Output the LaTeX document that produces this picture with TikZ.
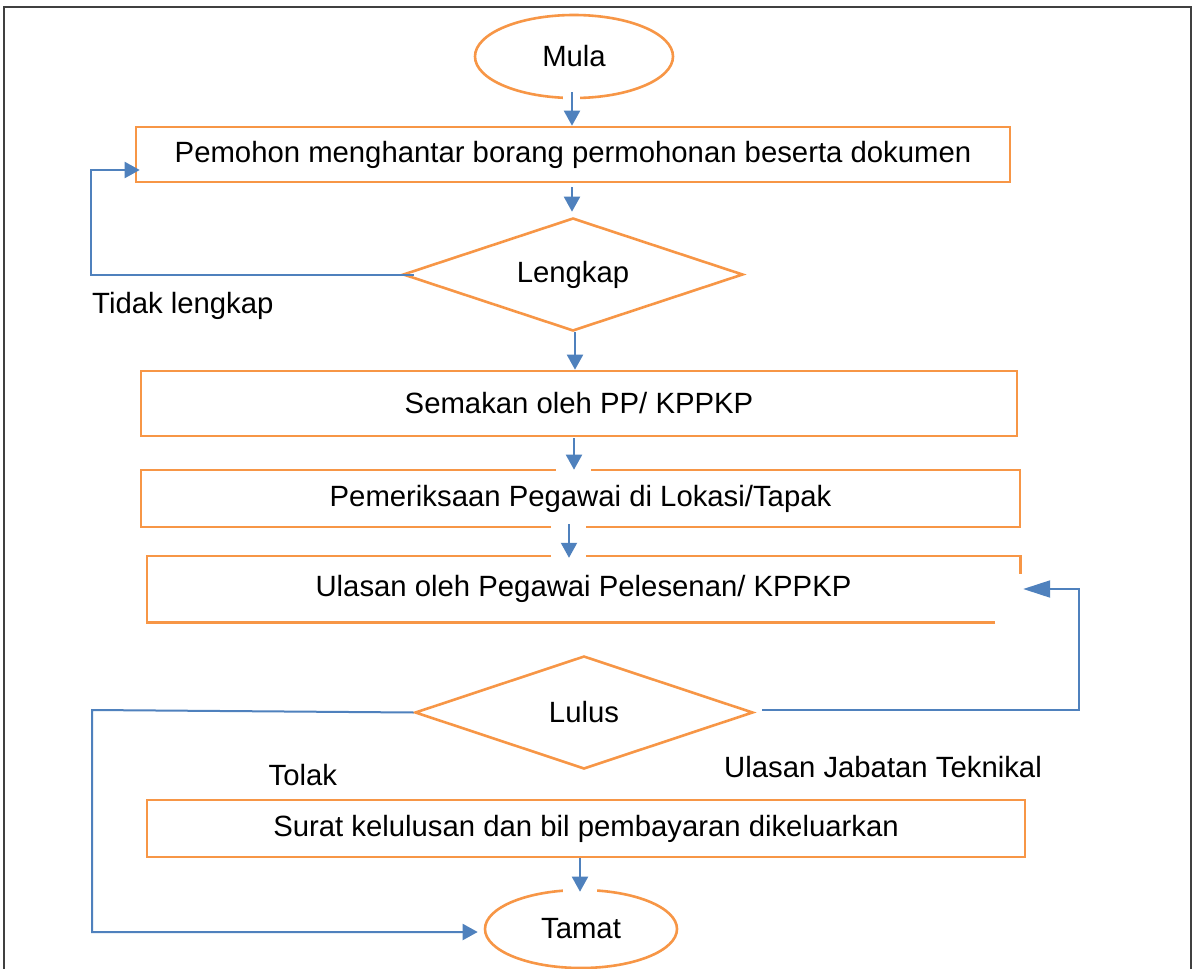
\documentclass[tikz,border=0pt]{standalone}
\usepackage{fontspec}
\setmainfont{Liberation Sans}
\usetikzlibrary{shapes.geometric,arrows.meta}
\definecolor{orng}{HTML}{F79646}
\definecolor{blu}{HTML}{4F81BD}
\definecolor{frm}{HTML}{404040}
\tikzset{
  box/.style={draw=orng, line width=2.6pt, rectangle, inner sep=0pt},
  openbox/.style={rectangle, inner sep=0pt},
  dec/.style={draw=orng, line width=2.6pt, diamond, aspect=3, inner sep=0pt},
  term/.style={draw=orng, line width=2.6pt, ellipse, inner sep=0pt},
  lbl/.style={inner sep=0pt},
  conn/.style={draw=blu, line width=2pt},
  arr/.style={conn, -{Triangle[length=15pt,width=16pt]}},
  bigarr/.style={conn, -{Triangle[length=27pt,width=17pt]}},
  patch/.style={fill=white, draw=none},
}
\begin{document}
\begin{tikzpicture}[x=1pt, y=-1pt, font=\fontsize{29.3pt}{35pt}\selectfont]
\useasboundingbox (0,0) rectangle (1195,969);
\fill[white] (0,0) rectangle (1195,969);
% frame
\draw[frm, line width=1.8pt] (4,975) -- (4,7) -- (1191,7) -- (1191,975);

% nodes
\node[term, minimum width=198pt, minimum height=83pt] (mula) at (574,56.5) {Mula};
\node[box, minimum width=874pt, minimum height=55pt] (b1) at (573,154.5) {Pemohon menghantar borang permohonan beserta dokumen};
\node[dec, minimum width=340pt, minimum height=113pt] (lengkap) at (573,274.5) {Lengkap};
\node[box, minimum width=876pt, minimum height=65pt] (b2) at (579,403.5) {Semakan oleh PP/ KPPKP};
\node[box, minimum width=879pt, minimum height=57pt] (b3) at (580.5,498.5) {Pemeriksaan Pegawai di Lokasi/Tapak};
\node[openbox, minimum width=873pt, minimum height=66pt] (b4) at (583.5,589) {Ulasan oleh Pegawai Pelesenan/ KPPKP};
\draw[orng, line width=2.6pt] ([xshift=-25pt]b4.south east) -- (b4.south west) -- (b4.north west) -- (b4.north east) -- ([yshift=-18pt]b4.north east);
\node[dec, minimum width=338pt, minimum height=113pt] (lulus) at (584,712.5) {Lulus};
\node[box, minimum width=878pt, minimum height=57pt] (b5) at (586,828.5) {Surat kelulusan dan bil pembayaran dikeluarkan};
\node[term, minimum width=192pt, minimum height=78pt] (tamat) at (581,929) {Tamat};

% labels
\node[lbl, anchor=base west] (tl) at (92,313) {Tidak lengkap};
\node[lbl, anchor=base west] (tolak) at (268.5,785) {Tolak};
\node[lbl, anchor=base west] (ujt) at (724,777.5) {Ulasan Jabatan Teknikal};

% white gaps where the arrows cut the borders
\path[patch] (563,94) rectangle (580,102);
\path[patch] (556,466) rectangle (591,475);
\path[patch] (551,521) rectangle (586,561);
\path[patch] (563,885) rectangle (597,896);

% connectors
\coordinate (lc1) at (91,274.5);
\coordinate (rc) at (1079,709.5);
\coordinate (lc2) at (92,710);
\draw[arr] ([xshift=-2pt,yshift=7pt]mula.south) -- ([xshift=-1pt]b1.north);
\draw[arr] ([xshift=-1pt,yshift=-4pt]b1.south) -- ([xshift=-1pt,yshift=5pt]lengkap.north);
\draw[arr] ([xshift=12pt]lengkap.west) -- (lc1) |- ([xshift=5pt,yshift=-15.5pt]b1.west);
\draw[arr] ([xshift=2pt]lengkap.south) -- ([xshift=-4pt]b2.north);
\draw[arr] ([xshift=-5pt,yshift=-1pt]b2.south) -- ([xshift=-6.5pt,yshift=-1pt]b3.north);
\draw[arr] ([xshift=-11.5pt,yshift=4pt]b3.south) -- ([xshift=-14.5pt,yshift=-2pt]b4.north);
\draw[bigarr] ([xshift=8pt,yshift=3pt]lulus.east) -- (rc) |- ([xshift=3pt]b4.east);
\draw[arr] (lulus.west) -- (lc2) |- ([xshift=-6pt,yshift=-3pt]tamat.west);
\draw[arr] ([xshift=-6pt]b5.south) -- ([xshift=-1pt,yshift=-3pt]tamat.north);
\end{tikzpicture}
\end{document}
